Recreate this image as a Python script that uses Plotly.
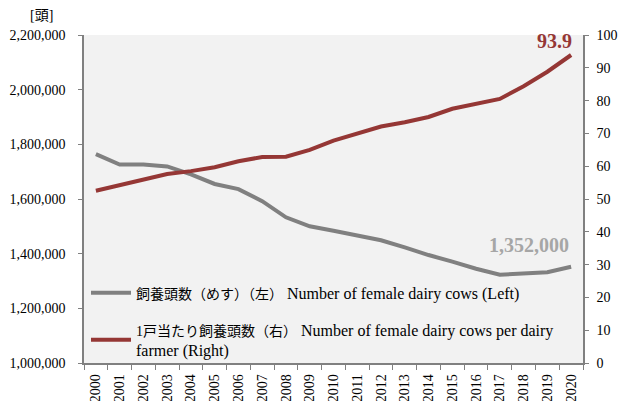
import plotly.graph_objects as go

years = [str(y) for y in range(2000, 2021)]
cows = [1764000, 1726000, 1726000, 1719000, 1690000, 1655000, 1636000, 1592000,
        1533000, 1500000, 1484000, 1467000, 1449000, 1423000, 1395000, 1371000,
        1345000, 1323000, 1328000, 1332000, 1352000]
per_farm = [52.5, 54.3, 55.8, 57.6, 58.5, 59.7, 61.5, 62.8, 62.9, 65.0, 67.8,
            69.9, 72.1, 73.4, 75.0, 77.5, 79.1, 80.5, 84.4, 88.8, 93.9]

JP = '<span style="font-size:14px">{}</span>'
name_cows = JP.format("飼養頭数（めす）（左）") + " Number of female dairy cows (Left)"
name_farm = JP.format("1戸当たり飼養頭数（右）") + " Number of female dairy cows per dairy<br>farmer (Right)"

GRAY = "#808080"
RED = "#953735"
FONT = "'Liberation Serif', 'Noto Sans CJK JP', serif"

fig = go.Figure()
fig.add_trace(go.Scatter(x=years, y=cows, mode="lines", name=name_cows,
                         line=dict(color=GRAY, width=4), legendgroup="a"))
fig.add_trace(go.Scatter(x=years, y=per_farm, mode="lines", name=name_farm,
                         line=dict(color=RED, width=4), yaxis="y2", legendgroup="b"))

last = len(years) - 1
fig.add_annotation(x=last, y=per_farm[-1], xref="x", yref="y2", text="<b>93.9</b>",
                   showarrow=False, xanchor="right", yanchor="bottom",
                   xshift=3, yshift=1, font=dict(size=20, color=RED, family=FONT))
fig.add_annotation(x=last, y=cows[-1], xref="x", yref="y", text="<b>1,352,000</b>",
                   showarrow=False, xanchor="right", yanchor="bottom",
                   xshift=0, yshift=9, font=dict(size=20, color="#A6A6A6", family=FONT))
fig.add_annotation(xref="paper", yref="paper", x=-0.085, y=1.03, text="[頭]",
                   showarrow=False, xanchor="center", yanchor="bottom",
                   font=dict(size=14, color="black", family=FONT))

fig.update_layout(
    width=619, height=401,
    margin=dict(l=84, r=36, t=35, b=38),
    paper_bgcolor="white", plot_bgcolor="#F2F2F2",
    font=dict(family=FONT, size=14, color="black"),
    showlegend=True,
    legend=dict(x=0.004, y=0.266, xanchor="left", yanchor="top",
                bgcolor="rgba(0,0,0,0)", font=dict(size=16, family=FONT),
                tracegroupgap=13, itemwidth=40),
    xaxis=dict(type="category", categoryorder="array", categoryarray=years,
               range=[-0.5, len(years) - 0.5], autorange=False, automargin=False,
               showgrid=False, showline=True, linecolor=GRAY,
               linewidth=1.5, ticks="outside", tickson="boundaries", ticklen=5,
               tickcolor=GRAY, tickangle=-90, tickfont=dict(size=14, family=FONT),
               ticklabelstandoff=4, zeroline=False),
    yaxis=dict(range=[1000000, 2200000], dtick=200000, tickformat=",",
               automargin=False,
               showgrid=False, showline=True, linecolor=GRAY, linewidth=1.5,
               ticks="outside", ticklen=4, tickcolor=GRAY, zeroline=False,
               ticklabelstandoff=10, tickfont=dict(size=14, family=FONT)),
    yaxis2=dict(range=[0, 100], dtick=10, overlaying="y", side="right",
                automargin=False,
                showgrid=False, showline=True, linecolor=GRAY, linewidth=1.5,
                ticks="outside", ticklen=4, tickcolor=GRAY, zeroline=False,
                ticklabelstandoff=5, tickfont=dict(size=14, family=FONT)),
)

fig.write_html("out.html", config={"displayModeBar": False},
               post_script="document.body.style.margin='0px';")
